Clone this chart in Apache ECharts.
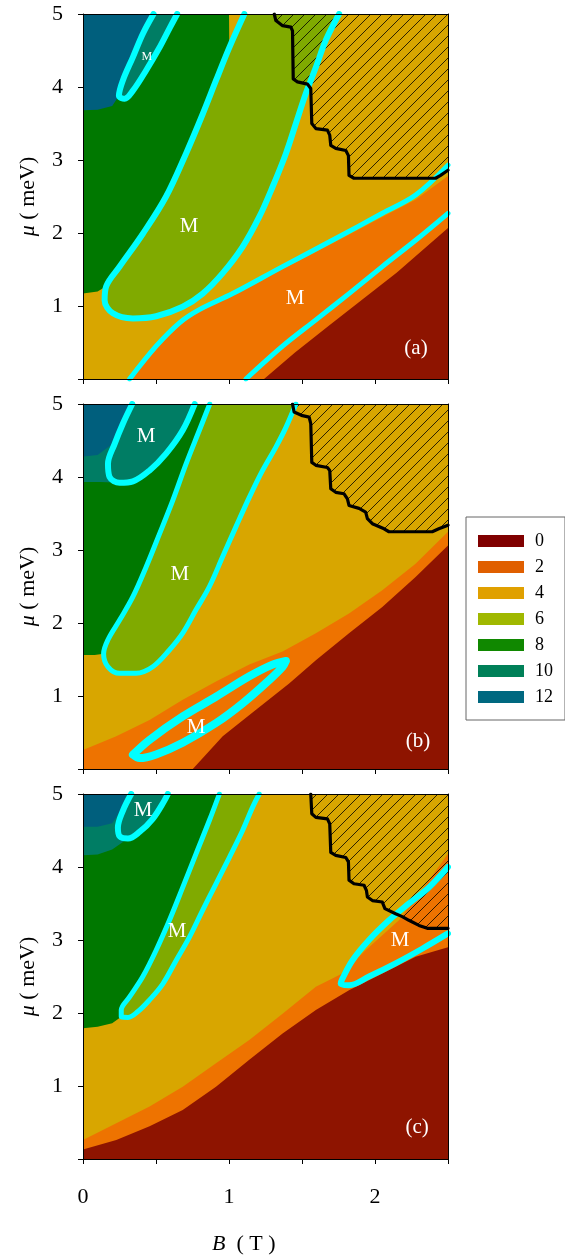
<!DOCTYPE html>
<html><head><meta charset="utf-8">
<script src="https://cdn.jsdelivr.net/npm/echarts@6/dist/echarts.min.js"></script>
<style>html,body{margin:0;padding:0;background:#fff}#c{width:565px;height:1257px}</style>
</head><body><div id="c"></div>
<script>
// ---------- data (B in T, mu in meV) ----------
const levels = ['0','2','4','6','8','10','12'];
const xTickLabels = [0, 1, 2];
const yTickLabels = [1, 2, 3, 4, 5];

// Panel (a)
const aBlue = [[0,5],[0.483,5],[0.41,4.73],[0.342,4.41],[0.273,4.09],[0.246,3.88],[0.2,3.74],[0.1,3.69],[0,3.68]];
const aSmallLoop = [[0.483,5],[0.41,4.73],[0.342,4.41],[0.273,4.09],[0.246,3.88],[0.285,3.84],[0.342,3.95],[0.433,4.23],[0.524,4.54],[0.597,4.82],[0.645,5]];
const aGreen = [[0,1.17],[0,5],[1.0,5],[1.002,4.54],[0.911,4.09],[0.820,3.63],[0.706,3.09],[0.569,2.50],[0.410,1.99],[0.251,1.54],[0.159,1.27],[0.1,1.2]];
const aBigLoop = [[1.105,5.0],[1.002,4.54],[0.911,4.09],[0.820,3.63],[0.706,3.09],[0.569,2.50],[0.410,1.99],[0.251,1.54],[0.159,1.27],[0.148,1.08],[0.205,0.90],[0.342,0.83],[0.501,0.86],[0.683,0.99],[0.820,1.17],[0.957,1.45],[1.093,1.81],[1.207,2.22],[1.298,2.63],[1.390,3.09],[1.458,3.50],[1.526,3.91],[1.595,4.27],[1.663,4.64],[1.754,5.0]];
const aOliveEdge = [[1.0,5]];
const aUpperCyan = [[0.319,0],[0.501,0.45],[0.661,0.77],[0.797,0.95],[1.025,1.17],[1.367,1.54],[1.708,1.90],[2.050,2.27],[2.278,2.52],[2.5,2.93]];
const aOrangeTop = [[0.33,0],[0.51,0.43],[0.67,0.75],[0.80,0.93],[1.03,1.15],[1.37,1.51],[1.71,1.86],[2.05,2.22],[2.28,2.46],[2.5,2.78]];
const aLowerCyan = [[1.116,0],[1.367,0.45],[1.595,0.81],[1.822,1.17],[2.050,1.54],[2.278,1.90],[2.5,2.27]];
const aRedTop = [[1.24,0],[1.45,0.36],[1.69,0.74],[1.92,1.10],[2.15,1.46],[2.5,2.07]];
const aHatchEdge = [[1.310,5.0],[1.321,4.91],[1.367,4.84],[1.424,4.82],[1.435,4.77],[1.440,4.11],[1.469,4.07],[1.538,4.04],[1.560,3.98],[1.567,3.50],[1.595,3.43],[1.674,3.41],[1.690,3.34],[1.697,3.20],[1.731,3.16],[1.800,3.13],[1.818,3.06],[1.822,2.79],[1.856,2.75],[2.415,2.75],[2.449,2.79],[2.5,2.86]];
const aLabels = [[0.726,2.09,'M'],[1.452,1.10,'M'],[2.281,0.42,'(a)']];
const aMinorLabels = [[0.438,4.41,'M']];

// Panel (b)
const bBlue = [[0,4.28],[0,5],[0.32,5],[0.27,4.72],[0.2,4.45],[0.1,4.3]];
const bSmallLoop = [[0.337,5],[0.273,4.73],[0.216,4.45],[0.171,4.18],[0.182,4.0],[0.251,3.92],[0.342,3.94],[0.456,4.09],[0.569,4.32],[0.683,4.64],[0.765,5.0]];
const bTeal = [[0,3.93],[0,5],[0.765,5],[0.683,4.64],[0.569,4.32],[0.456,4.09],[0.342,3.94],[0.251,3.92],[0.12,3.93]];
const bGreen = [[0,1.56],[0,5],[0.868,5],[0.797,4.64],[0.706,4.18],[0.615,3.68],[0.524,3.22],[0.433,2.77],[0.342,2.36],[0.251,2.04],[0.171,1.77],[0.141,1.58],[0.08,1.56]];
const bBigLoop = [[0.868,5.0],[0.797,4.64],[0.706,4.18],[0.615,3.68],[0.524,3.22],[0.433,2.77],[0.342,2.36],[0.251,2.04],[0.171,1.77],[0.141,1.58],[0.171,1.40],[0.251,1.31],[0.364,1.31],[0.478,1.40],[0.592,1.63],[0.683,1.86],[0.774,2.18],[0.866,2.50],[0.957,2.91],[1.048,3.32],[1.139,3.72],[1.230,4.09],[1.321,4.41],[1.390,4.68],[1.458,5.0]];
const bEllipse = [[0.342,0.196],[0.456,0.40],[0.683,0.72],[0.911,0.99],[1.139,1.27],[1.298,1.43],[1.390,1.48],[1.367,1.40],[1.276,1.22],[1.093,0.90],[0.911,0.63],[0.683,0.36],[0.501,0.20],[0.387,0.15],[0.342,0.196]];
const bOrangeTop = [[0,0.26],[0.228,0.45],[0.456,0.67],[0.683,0.95],[0.911,1.20],[1.139,1.43],[1.367,1.61],[1.595,1.86],[1.822,2.13],[2.050,2.45],[2.278,2.81],[2.5,3.25]];
const bRedTop = [[0.752,0],[0.957,0.45],[1.185,0.81],[1.412,1.17],[1.595,1.49],[1.822,1.86],[2.050,2.22],[2.278,2.63],[2.5,3.06]];
const bHatchEdge = [[1.435,5.0],[1.446,4.89],[1.503,4.84],[1.549,4.82],[1.560,4.73],[1.567,4.20],[1.595,4.16],[1.674,4.13],[1.690,4.09],[1.697,3.84],[1.731,3.79],[1.788,3.77],[1.811,3.70],[1.822,3.61],[1.891,3.57],[1.936,3.52],[1.948,3.43],[1.982,3.36],[2.062,3.29],[2.096,3.25],[2.392,3.25],[2.437,3.29],[2.5,3.34]];
const bLabels = [[0.432,4.56,'M'],[0.664,2.67,'M'],[0.774,0.575,'M'],[2.295,0.38,'(b)']];

// Panel (c)
const cBlue = [[0,4.55],[0,5],[0.3,5],[0.26,4.78],[0.2,4.6],[0.1,4.55]];
const cSmallLoop = [[0.330,5],[0.273,4.77],[0.239,4.54],[0.251,4.42],[0.308,4.39],[0.387,4.48],[0.478,4.66],[0.558,4.91],[0.581,5.0]];
const cTeal = [[0,4.16],[0,5],[0.581,5],[0.558,4.91],[0.478,4.66],[0.387,4.48],[0.308,4.39],[0.2,4.24],[0.1,4.17]];
const cGreen = [[0,1.79],[0,5],[0.934,5],[0.866,4.64],[0.774,4.18],[0.683,3.72],[0.592,3.27],[0.501,2.86],[0.410,2.50],[0.319,2.22],[0.262,2.04],[0.262,1.95],[0.2,1.86],[0.1,1.81]];
const cBigLoop = [[0.934,5],[0.866,4.64],[0.774,4.18],[0.683,3.72],[0.592,3.27],[0.501,2.86],[0.410,2.50],[0.319,2.22],[0.262,2.04],[0.262,1.95],[0.308,1.94],[0.376,2.02],[0.456,2.18],[0.547,2.40],[0.638,2.72],[0.729,3.04],[0.820,3.41],[0.911,3.77],[1.002,4.13],[1.093,4.50],[1.162,4.82],[1.207,5.0]];
const cWedge = [[2.5,4.0],[2.369,3.72],[2.232,3.50],[2.096,3.27],[1.959,3.0],[1.845,2.72],[1.777,2.47],[1.765,2.40],[1.822,2.38],[1.959,2.50],[2.141,2.68],[2.323,2.88],[2.5,3.09]];
const cOrangeTop = [[0,0.26],[0.228,0.49],[0.456,0.72],[0.683,0.99],[0.911,1.31],[1.139,1.63],[1.367,1.99],[1.595,2.36],[1.776,2.54],[1.936,2.86],[2.164,3.27],[2.369,3.82],[2.5,4.18]];
const cRedTop = [[0,0.13],[0.228,0.26],[0.456,0.45],[0.683,0.67],[0.911,0.99],[1.139,1.36],[1.367,1.72],[1.595,2.04],[1.822,2.31],[2.050,2.54],[2.278,2.77],[2.5,2.90]];
const cHatchEdge = [[1.560,5.0],[1.567,4.73],[1.595,4.68],[1.674,4.66],[1.690,4.59],[1.697,4.20],[1.731,4.16],[1.800,4.13],[1.818,4.07],[1.822,3.82],[1.856,3.77],[1.925,3.75],[1.941,3.68],[1.948,3.59],[1.982,3.54],[2.050,3.52],[2.068,3.43],[2.141,3.36],[2.187,3.32],[2.232,3.27],[2.301,3.20],[2.358,3.16],[2.5,3.16]];
const cLabels = [[0.411,4.78,'M'],[0.644,3.11,'M'],[2.171,3.0,'M'],[2.288,0.43,'(c)']];

// ---------- styling ----------
const B_MAX = 2.5, MU_MAX = 5;
const FONT = '"Liberation Serif", "Times New Roman", serif';
const COLORS = {'0':'#8E1400','2':'#EE7300','4':'#D8A600','6':'#80AA00','8':'#007800','10':'#007D64','12':'#005F7D'};
const LEGEND_COLORS = {'0':'#800000','2':'#E05F00','4':'#E0A000','6':'#A0B800','8':'#108800','10':'#008058','12':'#006880'};
const CYAN = '#00FFFF';

const hc = document.createElement('canvas');
hc.width = 11; hc.height = 11;
(function(){const g = hc.getContext('2d'); g.strokeStyle = '#000'; g.lineWidth = 0.8;
 g.beginPath(); g.moveTo(-2,13); g.lineTo(13,-2); g.moveTo(-2,2); g.lineTo(2,-2); g.moveTo(9,13); g.lineTo(13,9); g.stroke();})();

function poly(name, pts, gi, z, fill) {
  return {type:'custom', name, xAxisIndex:gi, yAxisIndex:gi, coordinateSystem:'cartesian2d',
    data: pts, clip:true, silent:true, z,
    renderItem:(params, api) => params.dataIndex === 0 ? {type:'polygon',
      shape:{points: pts.map(p => api.coord(p))}, style:{fill: fill || COLORS[name]}} : null};
}
function line(pts, gi, z, color, width, smooth) {
  return {type:'line', xAxisIndex:gi, yAxisIndex:gi, data:pts, symbol:'none', showSymbol:false,
    smooth: smooth, silent:true, z, clip:true, lineStyle:{color, width, cap:'round', join:'round'}};
}
function labels(arr, gi, size) {
  return {type:'custom', xAxisIndex:gi, yAxisIndex:gi, coordinateSystem:'cartesian2d', silent:true, z:20,
    data: arr.map(l => [l[0], l[1]]),
    renderItem:(params, api) => { const p = api.coord([api.value(0), api.value(1)]);
      return {type:'text', x:p[0], y:p[1], style:{text: arr[params.dataIndex][2], fill:'#fff',
        fontFamily: FONT, fontSize:size, align:'center', verticalAlign:'middle'}}; }};
}
const panels = [
  {blue:aBlue, teal:aSmallLoop, green:aGreen, olive:aOliveEdge.concat(aBigLoop), orangeTop:aOrangeTop, redTop:aRedTop,
   hatch:aHatchEdge, cyan:[aSmallLoop, aBigLoop, aUpperCyan, aLowerCyan], thick:[6,6,5,5], labels:aLabels, minor:aMinorLabels},
  {blue:bBlue, teal:bTeal, green:bGreen, olive:bBigLoop, orangeTop:bOrangeTop, redTop:bRedTop,
   hatch:bHatchEdge, cyan:[bSmallLoop, bBigLoop, bEllipse], thick:[6,5,8], labels:bLabels, minor:[]},
  {blue:cBlue, teal:cTeal, green:cGreen, olive:cBigLoop, orangeTop:cOrangeTop, redTop:cRedTop,
   hatch:cHatchEdge, cyan:[cSmallLoop, cBigLoop, cWedge], thick:[6,5,6], labels:cLabels, minor:[]}
];
const tops = [14, 404, 794];
const grid = [], xAxis = [], yAxis = [], series = [];
panels.forEach((P, i) => {
  grid.push({left:83, top:tops[i], width:365, height:365});
  xAxis.push({type:'value', gridIndex:i, min:0, max:B_MAX, interval:0.5, z:10,
    axisLine:{show:true, onZero:false, lineStyle:{color:'#000', width:1}},
    axisTick:{show:true, inside:false, length:5, lineStyle:{color:'#000'}},
    splitLine:{show:false},
    axisLabel:{show: i === 2, margin:27, fontFamily:FONT, fontSize:22, color:'#000',
      formatter: v => xTickLabels.indexOf(v) >= 0 ? String(v) : ''}});
  yAxis.push({type:'value', gridIndex:i, min:0, max:MU_MAX, interval:1, z:10,
    axisLine:{show:true, onZero:false, lineStyle:{color:'#000', width:1}},
    axisTick:{show:true, inside:false, length:5, lineStyle:{color:'#000'}},
    splitLine:{show:false},
    axisLabel:{margin:20, fontFamily:FONT, fontSize:22, color:'#000',
      formatter: v => yTickLabels.indexOf(v) >= 0 ? String(v) : ''},
    name:'{i|μ} ( meV)', nameLocation:'middle', nameGap:44,
    nameTextStyle:{fontFamily:FONT, fontSize:22, color:'#000',
      rich:{i:{fontFamily:FONT, fontSize:22, fontStyle:'italic', color:'#000'}}}});
  const gi = i;
  series.push(poly('4', [[0,0],[B_MAX,0],[B_MAX,MU_MAX],[0,MU_MAX]], gi, 1));
  series.push(poly('8', P.green, gi, 2));
  series.push(poly('10', P.teal, gi, 3));
  series.push(poly('12', P.blue, gi, 4));
  series.push(poly('6', P.olive, gi, 5));
  series.push(poly('2', [[P.orangeTop[0][0], 0]].concat(P.orangeTop, [[B_MAX, 0]]), gi, 6));
  series.push(poly('0', [[P.redTop[0][0], 0]].concat(P.redTop, [[B_MAX, 0]]), gi, 7));
  series.push(poly('hatch', P.hatch.concat([[B_MAX, MU_MAX]]), gi, 8, {image: hc, repeat:'repeat'}));
  P.cyan.forEach((c, k) => series.push(line(c, gi, 9, CYAN, P.thick[k], 0.35)));
  series.push(line(P.hatch, gi, 10, '#000', 3.2, false));
  series.push(labels(P.labels, gi, 21));
  if (P.minor.length) series.push(labels(P.minor, gi, 12));
});
// frame: top and right edges
panels.forEach((P, i) => {
  xAxis.push({type:'value', gridIndex:i, position:'top', min:0, max:B_MAX, z:10,
    axisLine:{show:true, onZero:false, lineStyle:{color:'#000', width:1}}, axisTick:{show:false}, axisLabel:{show:false}, splitLine:{show:false}});
  yAxis.push({type:'value', gridIndex:i, position:'right', min:0, max:MU_MAX, z:10,
    axisLine:{show:true, onZero:false, lineStyle:{color:'#000', width:1}}, axisTick:{show:false}, axisLabel:{show:false}, splitLine:{show:false}});
});

const chart = echarts.init(document.getElementById('c'), null, {renderer:'canvas'});
chart.setOption({
  animation:false,
  grid, xAxis, yAxis, series,
  legend:{orient:'vertical', left:466, top:517, icon:'rect', itemWidth:46, itemHeight:12, itemGap:8,
    padding:[15,12,14,12], borderColor:'#666', borderWidth:1, selectedMode:false,
    data: levels.map(n => ({name:n, itemStyle:{color:LEGEND_COLORS[n]}})),
    textStyle:{fontFamily:FONT, fontSize:18, color:'#000', padding:[0,0,0,6]}},
  graphic:[{type:'text', left:212, top:1233,
    style:{text:'{i|B}  ( T )', fontFamily:FONT, fontSize:22, fill:'#000',
      rich:{i:{fontFamily:FONT, fontSize:22, fontStyle:'italic', fill:'#000'}}}}]
});
</script>
</body></html>
